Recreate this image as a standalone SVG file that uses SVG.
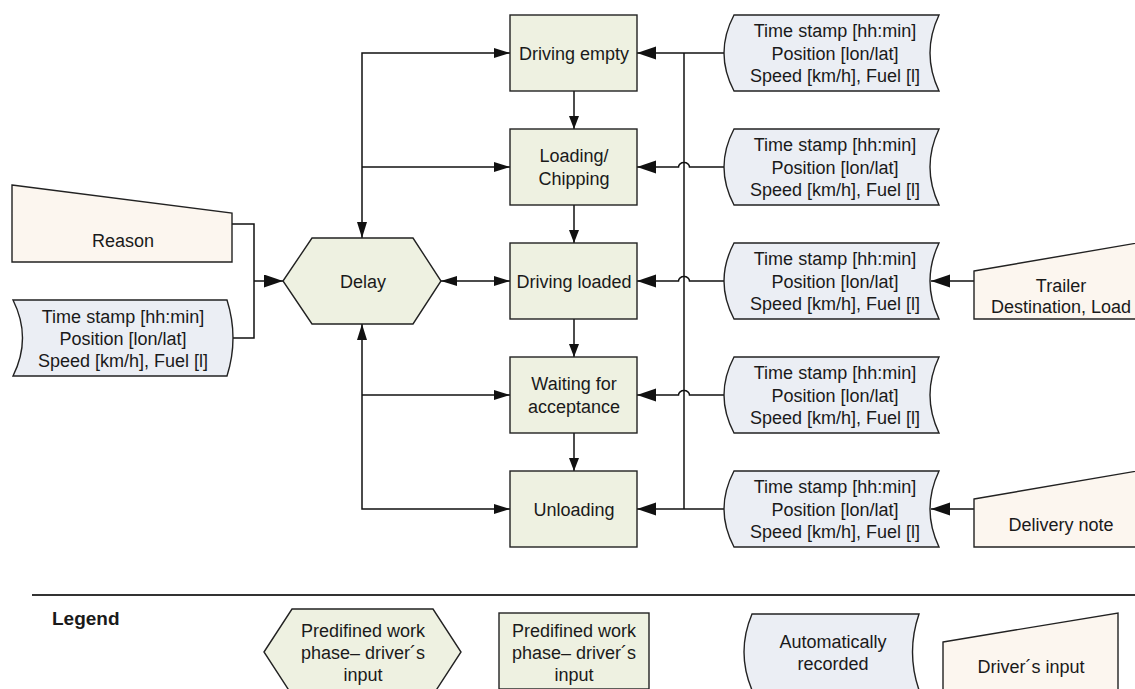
<svg xmlns="http://www.w3.org/2000/svg" width="1135" height="689" viewBox="0 0 1135 689">
<style>
text{font-family:"Liberation Sans",Arial,sans-serif;font-size:18px;fill:#1a1a1a;text-anchor:middle}
.box{fill:#EEF1E1;stroke:#222;stroke-width:1.4}
.data{fill:#EBEEF4;stroke:#222;stroke-width:1.4}
.man{fill:#FCF6EF;stroke:#222;stroke-width:1.4}
.c{fill:none;stroke:#111;stroke-width:1.5}
.legend{font-weight:bold;font-size:19px;text-anchor:start}
</style>
<defs>
<marker id="aL" markerUnits="userSpaceOnUse" markerWidth="20" markerHeight="14" refX="19" refY="6.5" orient="auto-start-reverse"><path d="M0,0 L19,6.5 L0,13 Z" fill="#111"/></marker>
<marker id="aM" markerUnits="userSpaceOnUse" markerWidth="17" markerHeight="11" refX="16" refY="5" orient="auto-start-reverse"><path d="M0,0 L16,5 L0,10 Z" fill="#111"/></marker>
<marker id="aS" markerUnits="userSpaceOnUse" markerWidth="14" markerHeight="11" refX="13" refY="5" orient="auto-start-reverse"><path d="M0,0 L13,5 L0,10 Z" fill="#111"/></marker>
</defs>

<g id="connectors">
<path class="c" d="M362,238 V53 H510" marker-start="url(#aM)" marker-end="url(#aM)"/>
<path class="c" d="M362,167 H510" marker-end="url(#aM)"/>
<path class="c" d="M362,324 V509 H510" marker-start="url(#aM)" marker-end="url(#aM)"/>
<path class="c" d="M362,395 H510" marker-end="url(#aM)"/>
<path class="c" d="M441,281 H510" marker-start="url(#aM)" marker-end="url(#aM)"/>
<path class="c" d="M232,224 H254 V338 H233"/>
<path class="c" d="M254,281 H283" marker-end="url(#aL)"/>
<path class="c" d="M574,91 V129" marker-end="url(#aS)"/>
<path class="c" d="M574,205 V243" marker-end="url(#aS)"/>
<path class="c" d="M574,319 V357" marker-end="url(#aS)"/>
<path class="c" d="M574,433 V471" marker-end="url(#aS)"/>
<path class="c" d="M724,53 H637" marker-end="url(#aL)"/>
<path class="c" d="M684,53 V509"/>
<path class="c" d="M724,167 H689.5 A5.5,4.5 0 0 0 678.5,167 H637" marker-end="url(#aL)"/>
<path class="c" d="M724,281 H689.5 A5.5,4.5 0 0 0 678.5,281 H637" marker-end="url(#aL)"/>
<path class="c" d="M724,395 H689.5 A5.5,4.5 0 0 0 678.5,395 H637" marker-end="url(#aL)"/>
<path class="c" d="M724,509 H637" marker-end="url(#aL)"/>
<path class="c" d="M974,281 H931" marker-end="url(#aL)"/>
<path class="c" d="M974,509 H931" marker-end="url(#aL)"/>
</g>

<g id="driving-empty"><rect class="box" x="510" y="15" width="127" height="76"/><text x="574" y="59.5">Driving empty</text></g>
<g id="loading"><rect class="box" x="510" y="129" width="127" height="76"/><text x="574" y="162">Loading/</text><text x="574" y="185">Chipping</text></g>
<g id="driving-loaded"><rect class="box" x="510" y="243" width="127" height="76"/><text x="574" y="287.5">Driving loaded</text></g>
<g id="waiting"><rect class="box" x="510" y="357" width="127" height="76"/><text x="574" y="390">Waiting for</text><text x="574" y="413">acceptance</text></g>
<g id="unloading"><rect class="box" x="510" y="471" width="127" height="76"/><text x="574" y="515.5">Unloading</text></g>

<g id="delay"><polygon class="box" points="283,281 312,238 413,238 441,281 413,324 312,324"/><text x="363" y="287.5">Delay</text></g>

<g id="reason"><polygon class="man" points="12,185 232,213 232,262 12,262"/><text x="123" y="246.5">Reason</text></g>
<g id="data-left"><path class="data" d="M13,300 H227 Q239,338 227,376 H13 Q32,338 13,300 Z"/><text x="123" y="323">Time stamp [hh:min]</text><text x="123" y="345">Position [lon/lat]</text><text x="123" y="367">Speed [km/h], Fuel [l]</text></g>

<g id="data-1"><path class="data" d="M734,15 H939 Q921,53 939,91 H734 Q714,53 734,15 Z"/><text x="835" y="37">Time stamp [hh:min]</text><text x="835" y="59.5">Position [lon/lat]</text><text x="835" y="82">Speed [km/h], Fuel [l]</text></g>
<g id="data-2"><path class="data" d="M734,129 H939 Q921,167 939,205 H734 Q714,167 734,129 Z"/><text x="835" y="151">Time stamp [hh:min]</text><text x="835" y="173.5">Position [lon/lat]</text><text x="835" y="196">Speed [km/h], Fuel [l]</text></g>
<g id="data-3"><path class="data" d="M734,243 H939 Q921,281 939,319 H734 Q714,281 734,243 Z"/><text x="835" y="265">Time stamp [hh:min]</text><text x="835" y="287.5">Position [lon/lat]</text><text x="835" y="310">Speed [km/h], Fuel [l]</text></g>
<g id="data-4"><path class="data" d="M734,357 H939 Q921,395 939,433 H734 Q714,395 734,357 Z"/><text x="835" y="379">Time stamp [hh:min]</text><text x="835" y="401.5">Position [lon/lat]</text><text x="835" y="424">Speed [km/h], Fuel [l]</text></g>
<g id="data-5"><path class="data" d="M734,471 H939 Q921,509 939,547 H734 Q714,509 734,471 Z"/><text x="835" y="493">Time stamp [hh:min]</text><text x="835" y="515.5">Position [lon/lat]</text><text x="835" y="538">Speed [km/h], Fuel [l]</text></g>

<g id="trailer"><polygon class="man" points="974,271 1149,241 1149,319 974,319"/><text x="1061" y="291.5">Trailer</text><text x="1061" y="312.5">Destination, Load</text></g>
<g id="delivery-note"><polygon class="man" points="974,499 1149,469 1149,547 974,547"/><text x="1061" y="530.5">Delivery note</text></g>

<g id="legend">
<line x1="32" y1="595" x2="1135" y2="595" stroke="#333" stroke-width="2"/>
<text class="legend" x="52" y="625">Legend</text>
<polygon class="box" points="264,652 292,609 433,609 461,652 433,695 292,695"/>
<text x="363" y="636.5">Predifined work</text><text x="363" y="658.5">phase– driver´s</text><text x="363" y="680.5">input</text>
<rect class="box" x="499" y="613" width="150" height="76"/>
<text x="574" y="636.5">Predifined work</text><text x="574" y="658.5">phase– driver´s</text><text x="574" y="680.5">input</text>
<path class="data" d="M752,614 H919 Q906,652 919,690 H752 Q736,652 752,614 Z"/>
<text x="833" y="648">Automatically</text><text x="833" y="669.5">recorded</text>
<polygon class="man" points="943,642 1118,613 1118,690 943,690"/>
<text x="1031" y="672.5">Driver´s input</text>
</g>
</svg>
